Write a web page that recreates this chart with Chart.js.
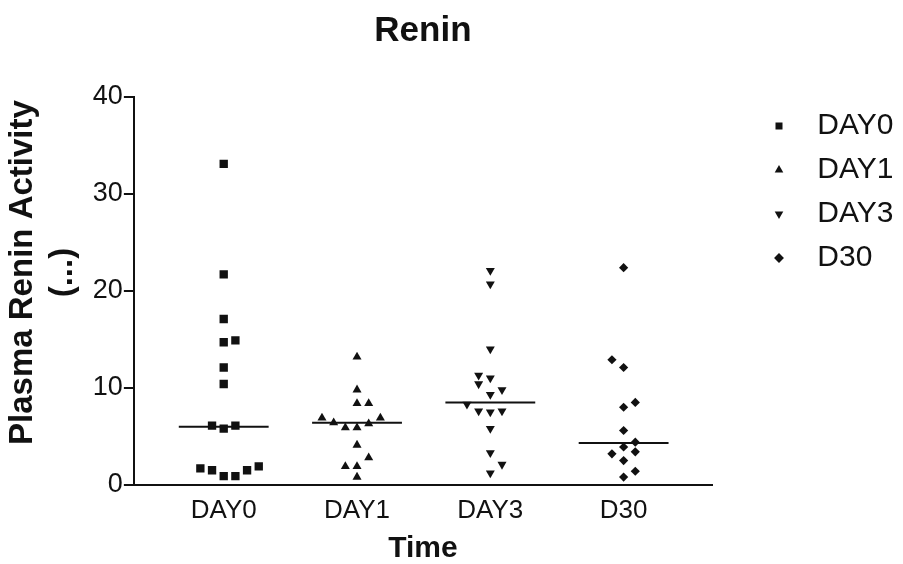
<!DOCTYPE html>
<html>
<head>
<meta charset="utf-8">
<script src="https://cdn.jsdelivr.net/npm/chart.js@4"></script>
<style>
  body { margin: 0; background: #fff; }
</style>
</head>
<body>
<canvas id="reninChart" width="903" height="564"></canvas>
<script>
// groups on the x axis
const categories = ["DAY0", "DAY1", "DAY3", "D30"];

// plasma renin activity
const day0Values = [33.1, 21.7, 17.1, 14.7, 14.9, 12.1, 10.4, 6.1, 5.8, 6.1, 1.7, 1.5, 0.9, 0.9, 1.5, 1.9];
const day0Jitter = [0, 0, 0, 0, 1, 0, 0, -1, 0, 1, -2, -1, 0, 1, 2, 3];

const day1Values = [13.2, 9.8, 8.4, 8.4, 6.9, 6.4, 5.9, 5.9, 6.3, 6.9, 4.1, 2.8, 1.9, 1.9, 0.8];
const day1Jitter = [0, 0, 0, 1, -3, -2, -1, 0, 1, 2, 0, 1, -1, 0, 0];

const day3Values = [22.1, 20.7, 14.0, 11.3, 11.0, 10.4, 9.8, 9.3, 8.3, 7.6, 7.5, 7.6, 5.8, 3.3, 2.1, 1.2];
const day3Jitter = [0, 0, 0, -1, 0, -1, 1, 0, -2, -1, 0, 1, 0, 0, 1, 0];

const d30Values = [22.4, 12.9, 12.1, 8.5, 8.0, 5.6, 4.4, 3.9, 3.4, 3.2, 2.5, 1.4, 0.8];
const d30Jitter = [0, -1, 0, 1, 0, 0, 1, 0, 1, -1, 0, 1, 0];

// median of each group
const medians = [6.0, 6.4, 8.5, 4.3];

const yTicks = [0, 10, 20, 30, 40];

const INK = "#111";
const JITTER_STEP = 0.0876;
const MEDIAN_HALF = 0.337;

function toPoints(values, jitter, idx) {
    return values.map((v, i) => ({ x: idx + jitter[i] * JITTER_STEP, y: v }));
}

const groups = [
    { values: day0Values, jitter: day0Jitter, style: "rect", rotation: 0, radius: 5.9 },
    { values: day1Values, jitter: day1Jitter, style: "triangle", rotation: 0, radius: 5.2 },
    { values: day3Values, jitter: day3Jitter, style: "triangle", rotation: 180, radius: 5.2 },
    { values: d30Values, jitter: d30Jitter, style: "rectRot", rotation: 0, radius: 4.6 }
];

const datasets = groups.map((g, i) => ({
    type: "scatter",
    label: categories[i],
    data: toPoints(g.values, g.jitter, i),
    pointStyle: g.style,
    pointRotation: g.rotation,
    pointRadius: g.radius,
    pointHoverRadius: g.radius,
    backgroundColor: INK,
    borderColor: INK,
    borderWidth: 0
}));

medians.forEach((m, i) => {
    datasets.push({
        type: "line",
        label: "median " + categories[i],
        data: [{ x: i - MEDIAN_HALF, y: m }, { x: i + MEDIAN_HALF, y: m }],
        borderColor: INK,
        borderWidth: 2,
        pointRadius: 0,
        fill: false
    });
});

new Chart("reninChart", {
    type: "scatter",
    data: { datasets: datasets },
    options: {
        responsive: false,
        animation: false,
        devicePixelRatio: 1,
        layout: { padding: { left: 0, right: 3, top: 0, bottom: 0 } },
        plugins: {
            tooltip: { enabled: false },
            title: {
                display: true,
                text: "Renin",
                fullSize: false,
                color: INK,
                font: { family: "Liberation Sans, Arial", size: 35, weight: "bold" },
                padding: { top: 10, bottom: 45 }
            },
            legend: {
                position: "right",
                align: "start",
                fullSize: false,
                labels: {
                    usePointStyle: true,
                    boxWidth: 30,
                    boxHeight: 7,
                    padding: 14,
                    color: INK,
                    font: { family: "Liberation Sans, Arial", size: 30 },
                    filter: (item) => item.datasetIndex < categories.length,
                    generateLabels: (chart) => {
                        const items = Chart.defaults.plugins.legend.labels.generateLabels(chart);
                        items.forEach((it) => { it.text = " " + it.text; });
                        return items;
                    }
                }
            }
        },
        scales: {
            x: {
                type: "linear",
                position: "bottom",
                min: -0.674,
                max: 3.663,
                afterBuildTicks: (scale) => {
                    scale.ticks = categories.map((c, i) => ({ value: i }));
                },
                ticks: {
                    callback: (v) => categories[v],
                    color: INK,
                    padding: 2,
                    font: { family: "Liberation Sans, Arial", size: 26 }
                },
                grid: { display: false },
                border: { display: true, color: INK, width: 2 },
                title: {
                    display: true,
                    text: "Time",
                    color: INK,
                    font: { family: "Liberation Sans, Arial", size: 30, weight: "bold", lineHeight: 1 },
                    padding: { top: 6, bottom: 0 }
                }
            },
            y: {
                min: 0,
                max: 40,
                afterBuildTicks: (scale) => {
                    scale.ticks = yTicks.map((v) => ({ value: v }));
                },
                ticks: {
                    color: INK,
                    padding: 1,
                    font: { family: "Liberation Sans, Arial", size: 27 }
                },
                grid: {
                    drawOnChartArea: false,
                    tickLength: 10,
                    color: INK,
                    lineWidth: 2
                },
                border: { display: true, color: INK, width: 2 },
                title: {
                    display: true,
                    // leading spaces lift the rotated text a little above the axis middle, as in the scan
                    text: ["    Plasma Renin Activity", "    (...)"],
                    color: INK,
                    font: { family: "Liberation Sans, Arial", size: 33, weight: "bold", lineHeight: 1.24 },
                    padding: { top: 2, bottom: 8 }
                }
            },
            // empty scale that keeps a gap between the plot and the legend
            gap: {
                type: "linear",
                position: "right",
                display: true,
                ticks: { display: false },
                grid: { display: false },
                border: { display: false },
                afterFit: (scale) => { scale.width = 38; }
            }
        }
    }
});
</script>
</body>
</html>
